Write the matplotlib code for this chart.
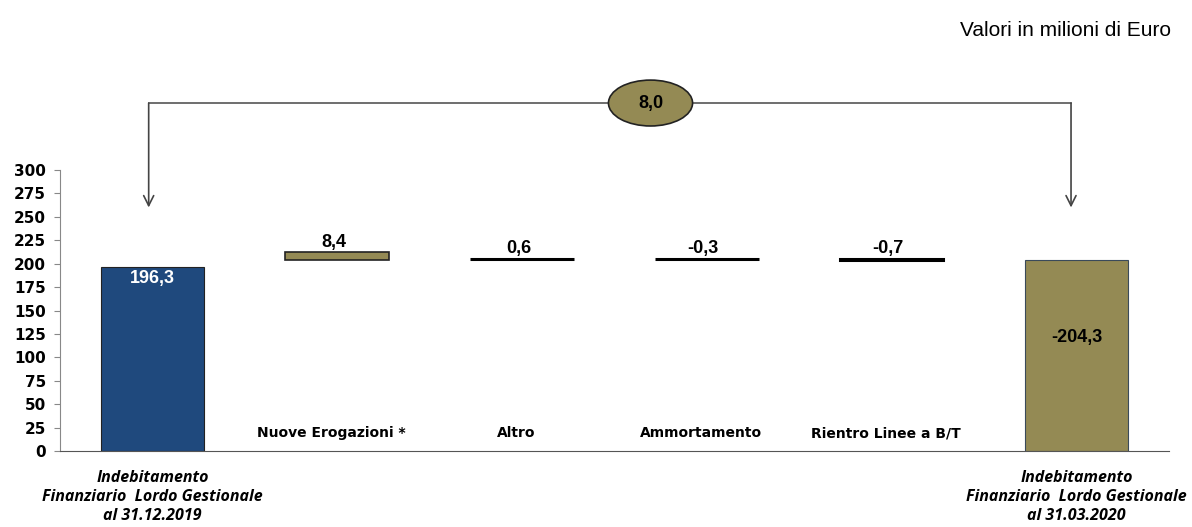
import matplotlib.pyplot as plt
from matplotlib.patches import Ellipse

categories = ["Indebitamento\nFinanziario  Lordo Gestionale\nal 31.12.2019",
              "Nuove Erogazioni *", "Altro", "Ammortamento", "Rientro Linee a B/T",
              "Indebitamento\nFinanziario  Lordo Gestionale\nal 31.03.2020"]
start_value = 196.3
changes = [8.4, 0.6, -0.3, -0.7]
end_value = 204.3
labels = ["196,3", "8,4", "0,6", "-0,3", "-0,7", "-204,3"]
delta_label = "8,0"

blue = "#1F497D"
olive = "#948A54"
arial = "Liberation Sans"

fig = plt.figure(figsize=(11.92, 5.27), dpi=100)
ax = fig.add_axes([0.0503, 0.1442, 0.9304, 0.5332])

# start and end totals
ax.bar(0, start_value, width=0.56, color=blue, edgecolor="#222222", linewidth=0.8)
ax.bar(5, end_value, width=0.56, color=olive, edgecolor="#3a4a5a", linewidth=0.8)
ax.text(0, start_value - 12, labels[0], ha="center", va="center", color="white",
        fontsize=13, fontweight="bold", family=arial)
ax.text(5, end_value / 2 + 18.5, labels[5], ha="center", va="center", color="black",
        fontsize=13, fontweight="bold", family=arial)

# floating steps (the big step sits on top of the final total, as in the original sheet)
level = start_value
for i, ch in enumerate(changes):
    x = i + 1
    if abs(ch) > 2:
        ax.bar(x, ch, bottom=end_value, width=0.56, color=olive, edgecolor="#222222", linewidth=1.2)
        ytxt = end_value + ch + 10
    else:
        ax.bar(x, ch, bottom=level, width=0.56, color="black", edgecolor="black", linewidth=2.2)
        ytxt = max(level, level + ch) + 11
    ax.text(x - 0.02, ytxt, labels[x], ha="center", va="center", fontsize=13,
            fontweight="bold", family=arial)
    level += ch

# category labels
for x in range(1, 5):
    ax.text(x - 0.03, 19, categories[x], ha="center", va="center", fontsize=10, fontweight="bold")

ax.set_xlim(-0.5, 5.5)
ax.set_ylim(0, 300)
ax.set_yticks(range(0, 301, 25))
ax.set_xticks([0, 5])
ax.set_xticklabels([categories[0], categories[5]], fontsize=11.5, fontweight="bold",
                   fontstyle="italic", linespacing=1.25, family="Open Sans")
ax.tick_params(axis="x", length=0, pad=14)
ax.tick_params(axis="y", labelsize=11, direction="out", length=4, color="#888888", pad=6)
for t in ax.get_yticklabels():
    t.set_fontweight("bold")
ax.spines["top"].set_visible(False)
ax.spines["right"].set_visible(False)
ax.spines["left"].set_color("#888888")
ax.spines["bottom"].set_color("#555555")

# bracket with arrows and difference ellipse
yb = 371.5
ax.plot([-0.02, 4.97], [yb, yb], color="#555555", lw=1.2, clip_on=False)
for xa in [-0.02, 4.97]:
    ax.annotate("", xy=(xa, 260), xytext=(xa, yb), xycoords="data",
                arrowprops=dict(arrowstyle="->", color="#444444", lw=1.2,
                                mutation_scale=18, shrinkA=0, shrinkB=0),
                annotation_clip=False)
el = Ellipse((2.695, yb), 0.455, 49, facecolor=olive, edgecolor="#222222", lw=1.2,
             clip_on=False, zorder=5)
ax.add_patch(el)
ax.text(2.695, yb, delta_label, ha="center", va="center", fontsize=13,
        fontweight="bold", family=arial, zorder=6)

fig.text(0.982, 0.943, "Valori in milioni di Euro", ha="right", va="center",
         fontsize=15, family=arial)

fig.savefig("out.png", dpi=100)
